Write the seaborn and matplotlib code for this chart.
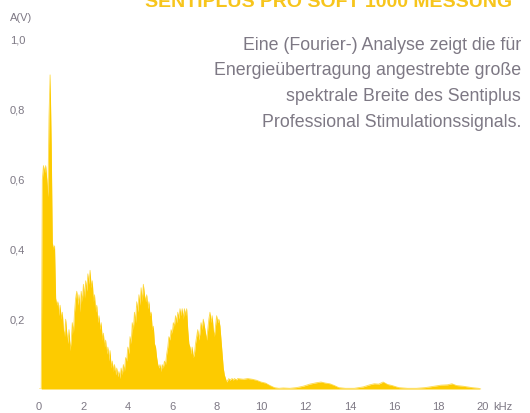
import numpy as np
import matplotlib
matplotlib.use("Agg")
import matplotlib.pyplot as plt
import seaborn as sns

# Amplitude spectrum of the stimulation signal, A in volts over frequency in kHz.
# Dense part: samples every 0.05 kHz from 0 to 8.95 kHz (one row per kHz).
freq_dense = np.round(np.arange(0, 9.0, 0.05), 2)
amp_dense = [
    0, 0, 0, 0.60, 0.64, 0.62, 0.64, 0.60, 0.55, 0.78, 0.90, 0.70, 0.42, 0.40, 0.41, 0.26, 0.24, 0.25, 0.21, 0.24,
    0.20, 0.22, 0.17, 0.15, 0.20, 0.16, 0.13, 0.17, 0.11, 0.14, 0.19, 0.16, 0.22, 0.26, 0.28, 0.24, 0.27, 0.22, 0.28, 0.25,
    0.30, 0.26, 0.31, 0.28, 0.33, 0.30, 0.34, 0.29, 0.31, 0.25, 0.27, 0.22, 0.24, 0.19, 0.21, 0.17, 0.19, 0.14, 0.16, 0.12,
    0.14, 0.10, 0.12, 0.08, 0.11, 0.06, 0.08, 0.05, 0.07, 0.04, 0.06, 0.035, 0.05, 0.03, 0.06, 0.04, 0.07, 0.05, 0.09, 0.08,
    0.12, 0.10, 0.15, 0.13, 0.19, 0.17, 0.22, 0.19, 0.25, 0.22, 0.27, 0.24, 0.29, 0.25, 0.30, 0.27, 0.25, 0.27, 0.23, 0.25,
    0.21, 0.22, 0.17, 0.18, 0.13, 0.12, 0.09, 0.07, 0.06, 0.07, 0.05, 0.07, 0.06, 0.08, 0.07, 0.10, 0.12, 0.15, 0.14, 0.17,
    0.16, 0.19, 0.18, 0.21, 0.19, 0.22, 0.20, 0.23, 0.21, 0.23, 0.20, 0.23, 0.21, 0.23, 0.17, 0.13, 0.12, 0.10, 0.12, 0.09,
    0.10, 0.13, 0.15, 0.17, 0.14, 0.16, 0.19, 0.17, 0.20, 0.18, 0.16, 0.14, 0.17, 0.20, 0.22, 0.19, 0.21, 0.17, 0.15, 0.18,
    0.21, 0.19, 0.20, 0.18, 0.14, 0.10, 0.06, 0.04, 0.03, 0.02, 0.025, 0.03, 0.025, 0.028, 0.03, 0.025, 0.03, 0.028, 0.026, 0.03,
]

# Sparse tail above 9 kHz.
freq_tail = [9.2, 9.4, 9.6, 9.8, 10.0, 10.2, 10.4, 10.6, 10.8, 11.0, 11.3, 11.6, 11.9, 12.2, 12.5, 12.7,
             12.9, 13.1, 13.3, 13.5, 13.8, 14.2, 14.6, 14.9, 15.1, 15.3, 15.5, 15.7, 15.9, 16.2, 16.6,
             17.0, 17.4, 17.8, 18.1, 18.4, 18.6, 18.8, 19.1, 19.5, 19.8, 19.9]
amp_tail = [0.028, 0.03, 0.028, 0.025, 0.02, 0.017, 0.01, 0.004, 0.002, 0.003, 0.002, 0.004, 0.008, 0.014, 0.018, 0.02,
            0.017, 0.015, 0.01, 0.004, 0.002, 0.002, 0.006, 0.012, 0.015, 0.014, 0.02, 0.013, 0.01, 0.004, 0.002,
            0.002, 0.004, 0.008, 0.011, 0.012, 0.015, 0.01, 0.008, 0.004, 0.002, 0.0]

y_ticks = [0.2, 0.4, 0.6, 0.8, 1.0]
y_tick_labels = ["0,2", "0,4", "0,6", "0,8", "1,0"]
x_ticks = [0, 2, 4, 6, 8, 10, 12, 14, 16, 18, 20]
x_tick_labels = ["0", "2", "4", "6", "8", "10", "12", "14", "16", "18", "20"]

caption_lines = [
    "Eine (Fourier-) Analyse zeigt die für",
    "Energieübertragung angestrebte große",
    "spektrale Breite des Sentiplus",
    "Professional Stimulationssignals.",
]
title_text = "SENTIPLUS PRO SOFT 1000 MESSUNG"

freq = np.concatenate([freq_dense, freq_tail])
amp = np.concatenate([np.asarray(amp_dense, float), np.asarray(amp_tail, float)])

sns.set_theme(style="white")
plt.rcParams["font.family"] = ["Liberation Sans", "DejaVu Sans"]

YELLOW = "#fdcb00"
GREY = "#7d7884"

fig = plt.figure(figsize=(5.30, 4.13), dpi=100)
fig.patch.set_facecolor("white")
ax = fig.add_axes([39 / 530, 24 / 413, 444 / 530, 349 / 413])
ax.set_facecolor("white")

ax.fill_between(freq, amp, 0, color=YELLOW, lw=0)
sns.lineplot(x=freq, y=amp, ax=ax, color=YELLOW, lw=0.6, alpha=0.7)

ax.set_xlim(0, 20)
ax.set_ylim(0, 1.0)
for s in ax.spines.values():
    s.set_visible(False)

ax.set_xticks(x_ticks)
ax.set_xticklabels(x_tick_labels)
ax.set_yticks(y_ticks)
ax.set_yticklabels(y_tick_labels, ha="left")
ax.tick_params(axis="both", length=0, labelsize=8, labelcolor=GREY)
ax.tick_params(axis="y", pad=21)
ax.tick_params(axis="x", pad=9)
ax.set_xlabel("")
ax.set_ylabel("")

# Unit labels: "kHz" sits on the same line as the x tick labels
ax.annotate("kHz", xy=(20, 0), xycoords=("data", "axes fraction"),
            xytext=(7.5, -9), textcoords="offset points",
            fontsize=8, color=GREY, ha="left", va="top")
fig.text(10 / 530, 1 - 18 / 413, "A(V)", fontsize=8, color=GREY, ha="left", va="center")

# Explanatory caption, right aligned in the upper right corner
for i, line in enumerate(caption_lines):
    y = 45 + i * 25.7
    fig.text(521 / 530, 1 - y / 413, line, fontsize=12.8, color=GREY, ha="right",
             va="center")

# Heading running off the top edge
fig.text(145 / 530, 1 - 7 / 413, title_text, fontsize=14, fontweight="bold",
         color="#f7c51c", ha="left", va="baseline")

fig.savefig("out.png", dpi=100, facecolor="white")
